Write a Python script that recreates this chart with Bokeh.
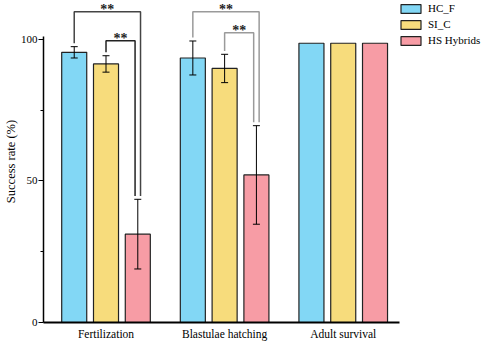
from bokeh.plotting import figure
from bokeh.models import (ColumnDataSource, Whisker, FixedTicker, Legend, LegendItem,
                          TeeHead, Range1d)
from bokeh.core.properties import value
from bokeh.embed import file_html
from bokeh.resources import INLINE

# ---- data ----
groups = ["Fertilization", "Blastulae hatching", "Adult survival"]
series = ["HC_F", "SI_C", "HS Hybrids"]
hc_f = [95.4, 93.4, 98.6]
si_c = [91.3, 89.7, 98.6]
hs = [31.2, 52.1, 98.6]
hc_f_err = [2.0, 6.0, 0.0]
si_c_err = [2.9, 5.0, 0.0]
hs_err = [12.3, 17.4, 0.0]
y_ticks = [0, 50, 100]
y_minor = [25, 75]

# significance comparisons: (group index, series a, series b, bracket level, label)
sig_group = [0, 0, 1, 1]
sig_a = [0, 1, 0, 1]
sig_b = [2, 2, 2, 2]
sig_level = [109.7, 99.5, 109.7, 102.3]
sig_text = ["**", "**", "**", "**"]

# ---- style ----
FONT = "Liberation Serif"
colors = ["#82D7F5", "#F7DC7C", "#F79CA5"]
offsets = [-0.268, 0.0, 0.268]
bar_w = 0.211
bracket_colors = ["#444444", "#222222", "#9a9a9a", "#9a9a9a"]
leg_shift = [0.023, -0.023, 0.023, -0.023]
x_axis_bounds = (-0.527, 2.477)

values_ = [hc_f, si_c, hs]
errs_ = [hc_f_err, si_c_err, hs_err]
xpos = list(range(len(groups)))

p = figure(width=484, height=342, output_backend="svg", toolbar_location=None,
           x_range=Range1d(-0.527, 3.191), y_range=Range1d(0, 113.7),
           min_border_left=41, min_border_right=0, min_border_top=0,
           min_border_bottom=19)
p.outline_line_color = None
p.grid.visible = False

items = []
for k, name in enumerate(series):
    xs = [g + offsets[k] for g in xpos]
    src = ColumnDataSource(dict(x=xs, top=values_[k]))
    r = p.vbar(x="x", top="top", width=bar_w, source=src,
               fill_color=colors[k], line_color="#222222", line_width=1.2)
    items.append(LegendItem(label=name, renderers=[r]))

    ex, eu, el = [], [], []
    for i, g in enumerate(xpos):
        if errs_[k][i] > 0:
            ex.append(xs[i])
            eu.append(values_[k][i] + errs_[k][i])
            el.append(values_[k][i] - errs_[k][i])
    esrc = ColumnDataSource(dict(x=ex, upper=eu, lower=el))
    w = Whisker(source=esrc, base="x", upper="upper", lower="lower",
                dimension="height", line_color="black", line_width=1,
                upper_head=TeeHead(size=7, line_color="black", line_width=1),
                lower_head=TeeHead(size=7, line_color="black", line_width=1),
                level="overlay")
    p.add_layout(w)

# significance brackets
gap = 1.2
bx, by, tx, ty = [], [], [], []
for j in range(len(sig_group)):
    g = sig_group[j]
    a, b = sig_a[j], sig_b[j]
    xa = g + offsets[a]
    xb = g + offsets[b] + leg_shift[j]
    ya = values_[a][g] + errs_[a][g] + gap
    yb = values_[b][g] + errs_[b][g] + gap
    lvl = sig_level[j]
    bx.append([xa, xa, xb, xb])
    by.append([ya, lvl, lvl, yb])
    tx.append((xa + xb) / 2)
    ty.append(lvl + 0.9)
p.multi_line(xs=bx, ys=by, line_color=bracket_colors, line_width=1.5)
p.text(x=tx, y=ty, text=sig_text, text_align="center", text_baseline="alphabetic",
       text_font=value(FONT), text_font_size="14px", text_font_style="bold",
       text_color="#222222")

# axes
yax = p.yaxis[0]
yax.ticker = FixedTicker(ticks=y_ticks, minor_ticks=y_minor)
yax.bounds = (0, 101)
yax.axis_label = "Success rate (%)"
yax.axis_label_text_font = FONT
yax.axis_label_text_font_style = "normal"
yax.axis_label_text_font_size = "12.5px"
yax.axis_label_text_color = "black"
yax.axis_label_standoff = 0
yax.major_label_text_font = FONT
yax.major_label_text_font_size = "11px"
yax.major_label_text_color = "black"
yax.major_label_standoff = 1
yax.major_tick_out = 5
yax.major_tick_in = 0
yax.minor_tick_out = 3
yax.minor_tick_in = 0
yax.axis_line_width = 1.5
yax.major_tick_line_width = 1.2
yax.minor_tick_line_width = 1.2

xax = p.xaxis[0]
xax.ticker = FixedTicker(ticks=xpos)
xax.bounds = x_axis_bounds
xax.major_label_overrides = {i: g for i, g in enumerate(groups)}
xax.major_label_text_font = FONT
xax.major_label_text_font_size = "11.5px"
xax.major_label_text_color = "black"
xax.major_label_standoff = 5
xax.major_tick_out = 0
xax.major_tick_in = 0
xax.minor_tick_out = 0
xax.minor_tick_in = 0
xax.axis_line_width = 2

legend = Legend(items=items, location=(355, 276), orientation="vertical",
                glyph_width=25, glyph_height=11, label_height=11, spacing=4,
                padding=0, margin=0, label_standoff=5, border_line_color=None,
                background_fill_alpha=0, label_text_font=FONT,
                label_text_font_size="11px", label_text_color="black")
p.add_layout(legend)

open("out.html", "w").write(file_html(p, INLINE))
